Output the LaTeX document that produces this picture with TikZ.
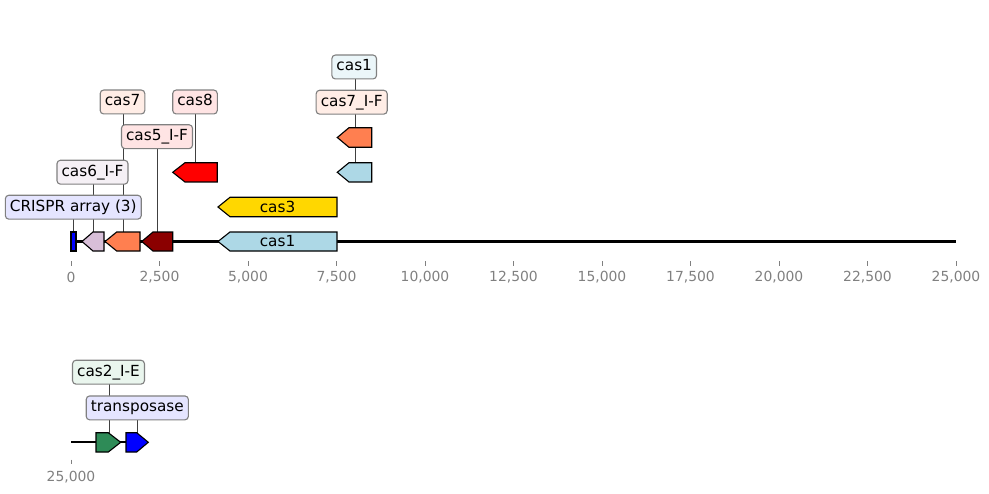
\documentclass[tikz,border=0pt]{standalone}
\usepackage{fontspec}
\setmainfont{DejaVu Sans}
\usetikzlibrary{backgrounds}

\definecolor{coral}{RGB}{255,127,80}
\definecolor{lblue}{RGB}{173,216,230}
\definecolor{thistle}{RGB}{216,191,216}
\definecolor{dred}{RGB}{139,0,0}
\definecolor{gold}{RGB}{255,215,0}
\definecolor{sgreen}{RGB}{46,139,87}
\definecolor{boxgray}{RGB}{128,128,128}
\definecolor{tickgray}{RGB}{128,128,128}
\definecolor{fcas1}{RGB}{235,246,249}
\definecolor{fcoral}{RGB}{255,237,230}
\definecolor{fred}{RGB}{255,228,228}
\definecolor{fthistle}{RGB}{245,240,245}
\definecolor{fblue}{RGB}{229,229,255}
\definecolor{fgreen}{RGB}{234,246,238}

\begin{document}
\begin{tikzpicture}[x=0.72pt,y=-0.72pt,
	gene/.style={draw=black, line width=0.8pt, line join=miter},
	genelabel/.style={draw=boxgray, line width=0.8pt, rounded corners=2.5pt, inner xsep=3.3pt, inner ysep=3.2pt, text height=8.2pt, text depth=2.6pt, font=\fontsize{11}{13}\selectfont},
	genename/.style={inner sep=0pt, font=\fontsize{11}{13}\selectfont},
	link/.style={draw=black!75, line width=0.6pt},
	ticklabel/.style={text=tickgray, font=\fontsize{10}{12}\selectfont}]
		\useasboundingbox (0,0) rectangle (989,494);
		% axis of the first row
		\draw[line width=1.5pt] (71,241.5) -- (956,241.5);
		\foreach \k/\t in {0/0, 1/{2,500}, 2/{5,000}, 3/{7,500}, 4/{10,000}, 5/{12,500}, 6/{15,000}, 7/{17,500}, 8/{20,000}, 9/{22,500}, 10/{25,000}}{
			\draw[tickgray, line width=0.6pt] (71+88.5*\k,261) -- (71+88.5*\k,265.5);
			\node[ticklabel] (tick\k) at (71+88.5*\k,277) {\t};
		}
		% axis of the second row
		\draw[line width=1.5pt] (71,442.3) -- (126,442.3);
		\draw[tickgray, line width=0.6pt] (71,459.5) -- (71,464);
		\node[ticklabel] (tick11) at (71,477) {25,000};

		% genes on the first row
		\filldraw[gene, fill=blue] (71,232) rectangle (76,251);
		\filldraw[gene, fill=thistle] (82,241.5) -- (93,232) -- (104,232) -- (104,251) -- (93,251) -- cycle;
		\filldraw[gene, fill=coral] (105,241.5) -- (116.7,232) -- (140,232) -- (140,251) -- (116.7,251) -- cycle;
		\filldraw[gene, fill=dred] (141.7,241.5) -- (153,232) -- (172.7,232) -- (172.7,251) -- (153,251) -- cycle;
		\filldraw[gene, fill=lblue] (218,241.5) -- (230,232) -- (337,232) -- (337,251) -- (230,251) -- cycle;
		\node[genename] (n-cas1) at (277.5,241.5) {cas1};
		\filldraw[gene, fill=gold] (218,207) -- (230,197.3) -- (337,197.3) -- (337,216.7) -- (230,216.7) -- cycle;
		\node[genename] (n-cas3) at (277.5,207) {cas3};
		\filldraw[gene, fill=red] (172.7,172.3) -- (185,162.7) -- (217.3,162.7) -- (217.3,182) -- (185,182) -- cycle;
		\filldraw[gene, fill=lblue] (337.3,172.3) -- (349,162.7) -- (371.7,162.7) -- (371.7,182) -- (349,182) -- cycle;
		\filldraw[gene, fill=coral] (337.3,137.5) -- (349,127.7) -- (371.7,127.7) -- (371.7,147.3) -- (349,147.3) -- cycle;

		% genes on the second row
		\filldraw[gene, fill=sgreen] (96,432.7) -- (108.3,432.7) -- (120.7,442.3) -- (108.3,452) -- (96,452) -- cycle;
		\filldraw[gene, fill=blue] (126,432.7) -- (136.7,432.7) -- (148.3,442.3) -- (136.7,452) -- (126,452) -- cycle;

		% where the labels point to
		\coordinate (g-crispr) at (73.3,232);
		\coordinate (g-cas6) at (93.3,232);
		\coordinate (g-cas7) at (123.7,232);
		\coordinate (g-cas5) at (157.3,232);
		\coordinate (g-cas8) at (195.3,162.7);
		\coordinate (g-cas1) at (355.7,162.7);
		\coordinate (g-cas7f) at (355.7,127.7);
		\coordinate (g-cas2) at (109.3,432.7);
		\coordinate (g-trans) at (137.7,432.7);

		% labels
		\node[genelabel, fill=fcas1] (l-cas1) at (354.2,67) {cas1};
		\node[genelabel, fill=fcoral] (l-cas7f) at (351.7,102.2) {cas7\_I-F};
		\node[genelabel, fill=fcoral] (l-cas7) at (122.5,102) {cas7};
		\node[genelabel, fill=fred] (l-cas8) at (195,102) {cas8};
		\node[genelabel, fill=fred] (l-cas5) at (157,136.7) {cas5\_I-F};
		\node[genelabel, fill=fthistle] (l-cas6) at (92.5,172.2) {cas6\_I-F};
		\node[genelabel, fill=fblue] (l-crispr) at (73.3,207.2) {CRISPR array (3)};
		\node[genelabel, fill=fgreen] (l-cas2) at (108.5,372.2) {cas2\_I-E};
		\node[genelabel, fill=fblue] (l-trans) at (137.3,407.9) {transposase};

		\begin{scope}[on background layer]
			\draw[link] (g-crispr) -- (g-crispr |- l-crispr.center);
			\draw[link] (g-cas6) -- (g-cas6 |- l-cas6.center);
			\draw[link] (g-cas7) -- (g-cas7 |- l-cas7.center);
			\draw[link] (g-cas5) -- (g-cas5 |- l-cas5.center);
			\draw[link] (g-cas8) -- (g-cas8 |- l-cas8.center);
			\draw[link] (g-cas1) -- (g-cas1 |- l-cas1.center);
			\draw[link] (g-cas7f) -- (g-cas7f |- l-cas7f.center);
			\draw[link] (g-cas2) -- (g-cas2 |- l-cas2.center);
			\draw[link] (g-trans) -- (g-trans |- l-trans.center);
		\end{scope}
	\end{tikzpicture}
\end{document}
